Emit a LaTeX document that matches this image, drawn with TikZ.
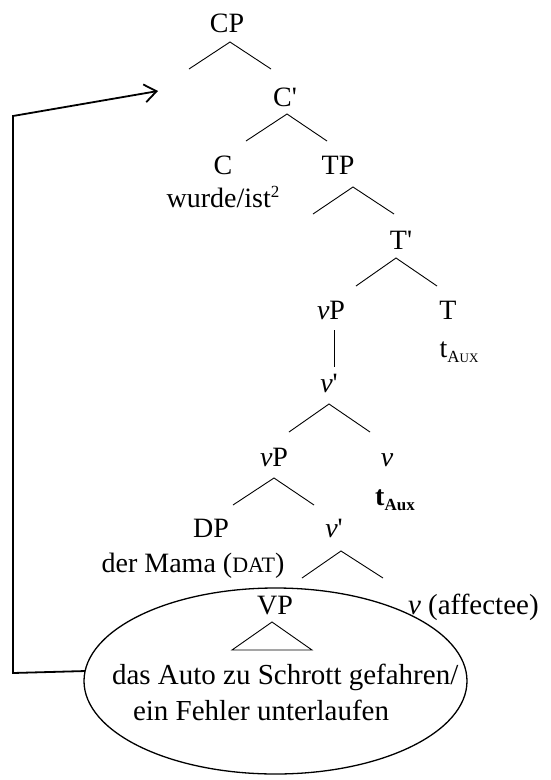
\documentclass[tikz,border=0pt]{standalone}
\usepackage{fontspec}
\setmainfont{Liberation Serif}
\newfontfamily\plainserif{Liberation Serif}
\newcommand{\pr}{{\plainserif'}}
\usetikzlibrary{arrows.meta,shapes.geometric}
\begin{document}
\begin{tikzpicture}[x=1pt,y=-1pt,
  lab/.style={anchor=base,inner sep=0pt,outer sep=0pt,font=\fontsize{28}{34}\selectfont},
  labw/.style={anchor=base west,inner sep=0pt,outer sep=0pt,font=\fontsize{29}{34}\selectfont},
  br/.style={line width=0.9pt},
  conn/.style={line width=1.8pt}]
\useasboundingbox (0,0) rectangle (550,780);
% ellipse
\node[draw,ellipse,minimum width=383pt,minimum height=186pt,inner sep=0pt,outer sep=0pt,line width=1.3pt] (ell) at (275.5,681) {};
% labels
\node[lab] (cp) at (227,32) {CP};
\node[lab] (cbar) at (285,106) {C\pr};
\node[lab] (c) at (223,174) {C};
\node[lab] (wurde) at (223,207) {wurde/ist\raisebox{10pt}{\fontsize{17}{17}\selectfont 2}};
\node[lab] (tp) at (338,174) {TP};
\node[lab] (tbar) at (401,249) {T\pr};
\node[lab] (vp1) at (331,319) {\textit{v}P};
\node[lab] (t) at (448,319) {T};
\node[lab] (taux) at (459,357) {t\raisebox{-5pt}{\fontsize{17}{17}\selectfont A\fontsize{13}{13}\selectfont UX}};
\node[lab] (vbar1) at (329,392) {\textit{v}\pr};
\node[lab] (vp2) at (274,466) {\textit{v}P};
\node[lab] (v) at (387,466) {\textit{v}};
\node[lab] (tauxb) at (395,505) {\textbf{t}\raisebox{-5pt}{\fontsize{17}{17}\selectfont\bfseries Aux}};
\node[lab] (dp) at (211,537) {DP};
\node[lab] (vbar2) at (334,537) {\textit{v}\pr};
\node[lab] (mama) at (193,572) {der Mama ({\fontsize{22}{22}\selectfont DAT})};
\node[lab] (vpbig) at (275,614) {VP};
\node[labw] (aff) at (408,614) {\textit{v} (affectee)};
\node[labw] (l1) at (112,684) {das Auto zu Schrott gefahren/};
\node[labw] (l2) at (133,720) {ein Fehler unterlaufen};
% branch points
\coordinate (cpA) at (230,42); \coordinate (cpL) at (189,69); \coordinate (cpR) at (271,69);
\coordinate (cbA) at (287,114); \coordinate (cbL) at (246,141); \coordinate (cbR) at (327,141);
\coordinate (tpA) at (353,187); \coordinate (tpL) at (313,214); \coordinate (tpR) at (394,214);
\coordinate (tbA) at (396,258); \coordinate (tbL) at (356,286); \coordinate (tbR) at (437,286);
\coordinate (vpT) at (334,330); \coordinate (vpB) at (334,367);
\coordinate (v1A) at (329,404); \coordinate (v1L) at (289,432); \coordinate (v1R) at (370,432);
\coordinate (v2A) at (274,478); \coordinate (v2L) at (233,505); \coordinate (v2R) at (314,505);
\coordinate (v3A) at (341,551); \coordinate (v3L) at (302,578); \coordinate (v3R) at (383,578);
\coordinate (trA) at (272,622); \coordinate (trL) at (232,650); \coordinate (trR) at (312,650);
\draw[br] (cpL) -- (cpA) -- (cpR);
\draw[br] (cbL) -- (cbA) -- (cbR);
\draw[br] (tpL) -- (tpA) -- (tpR);
\draw[br] (tbL) -- (tbA) -- (tbR);
\draw[br] (vpT) -- (vpB);
\draw[br] (v1L) -- (v1A) -- (v1R);
\draw[br] (v2L) -- (v2A) -- (v2R);
\draw[br] (v3L) -- (v3A) -- (v3R);
\draw[br] (trL) -- (trA) -- (trR) -- cycle;
% movement arrow
\coordinate (bot) at (13,673);
\coordinate (top) at (13,116);
\coordinate (tip) at (158,91);
\draw[conn,-{Straight Barb[length=12pt,width=18pt]}] (ell.177.6) -- (bot) -- (top) -- (tip);
\end{tikzpicture}
\end{document}
